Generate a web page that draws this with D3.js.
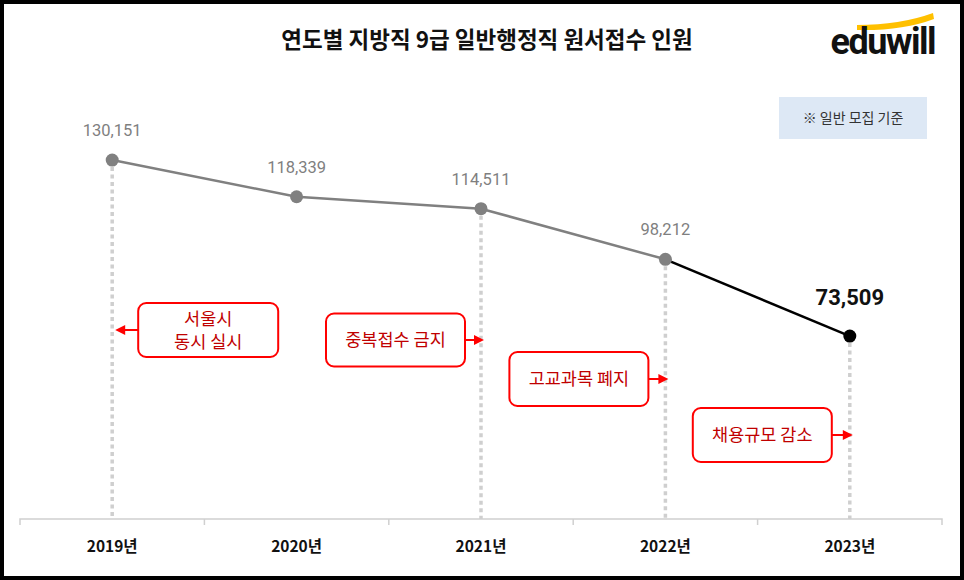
<!DOCTYPE html>
<html>
<head>
<meta charset="utf-8">
<title>연도별 지방직 9급 일반행정직 원서접수 인원</title>
<script src="https://cdn.jsdelivr.net/npm/d3@7"></script>
<style>
 html, body { margin: 0; padding: 0; background: #fff; }
 svg { display: block; font-family: "Noto Sans CJK KR", "Noto Sans", sans-serif; }
</style>
</head>
<body>
<div id="chart"></div>
<script>
 // data
 var years = ["2019년", "2020년", "2021년", "2022년", "2023년"];
 var applicants = [130151, 118339, 114511, 98212, 73509];
 var title = "연도별 지방직 9급 일반행정직 원서접수 인원";
 var footnote = "※ 일반 모집 기준";
 var noteYears = ["2019년", "2021년", "2022년", "2023년"];
 var noteTexts = [["서울시", "동시 실시"], ["중복접수 금지"], ["고교과목 폐지"], ["채용규모 감소"]];

 // layout of the note boxes, relative to the year line they point at
 var noteLayout = [
   { side: "right", gap: 26, cy: 330, w: 140, h: 54 },
   { side: "left",  gap: 16, cy: 340, w: 139, h: 53 },
   { side: "left",  gap: 17, cy: 379, w: 139, h: 54 },
   { side: "left",  gap: 18, cy: 435, w: 139, h: 54 }
 ];

 var W = 964, H = 580;
 var axisY = 519;
 var red = "#ff0000", redText = "#c00000", grey = "#808080";

 var svg = d3.select("#chart").append("svg")
   .attr("width", W).attr("height", H);

 svg.append("rect")
   .attr("x", 0).attr("y", 0).attr("width", W).attr("height", H)
   .attr("fill", "#fff");

 var x = d3.scaleBand().domain(years).range([20, 942]);
 var y = d3.scaleLinear().domain([70000, 135000]).range([347, 145]);
 var cx = function(d) { return x(d) + x.bandwidth() / 2; };

 // title
 svg.append("text")
   .attr("x", 487).attr("y", 48)
   .attr("text-anchor", "middle")
   .attr("font-size", 22.5).attr("font-weight", "bold")
   .attr("fill", "#111")
   .text(title);

 // eduwill logo
 svg.append("path")
   .attr("d", "M857,25 Q900,25 933,13 L934,19 Q902,31 857,30 Z")
   .attr("fill", "#ffc000");
 svg.append("text")
   .attr("x", 935).attr("y", 54)
   .attr("text-anchor", "end")
   .attr("font-family", "Roboto, 'Liberation Sans', sans-serif")
   .attr("font-size", 36).attr("font-weight", "bold")
   .attr("letter-spacing", -1.5)
   .attr("fill", "#111")
   .text("eduwill");

 // footnote box
 svg.append("rect")
   .attr("x", 779).attr("y", 97).attr("width", 148).attr("height", 42)
   .attr("fill", "#dde8f5");
 svg.append("text")
   .attr("x", 853).attr("y", 123)
   .attr("text-anchor", "middle")
   .attr("font-size", 14).attr("fill", "#333")
   .text(footnote);

 // x axis
 var xAxis = d3.axisBottom(x).tickSize(0).tickPadding(22);
 var gx = svg.append("g").attr("transform", "translate(0," + axisY + ")").call(xAxis);
 gx.select(".domain").attr("stroke", "#d0d0d0").attr("stroke-width", 1.5)
   .attr("d", "M20,6V0H942V6");
 gx.selectAll(".tick text")
   .attr("font-size", 15.5).attr("font-weight", "bold").attr("fill", "#111")
   .attr("font-family", "'Noto Sans CJK KR', sans-serif");
 gx.selectAll(".bound")
   .data(years.slice(1))
   .enter().append("line")
   .attr("x1", function(d) { return x(d); }).attr("x2", function(d) { return x(d); })
   .attr("y1", 0).attr("y2", 6)
   .attr("stroke", "#d0d0d0").attr("stroke-width", 1.5);

 // dashed guide lines for the annotated years
 svg.selectAll(".guide")
   .data(noteYears)
   .enter().append("line")
   .attr("x1", cx).attr("x2", cx)
   .attr("y1", function(d) { return y(applicants[years.indexOf(d)]) + 7; })
   .attr("y2", axisY)
   .attr("stroke", "#cfcfcf").attr("stroke-width", 3.5)
   .attr("stroke-dasharray", "4,3.5");

 // line
 var pts = years.map(function(d, i) { return [cx(d), y(applicants[i])]; });
 var line = d3.line();
 svg.append("path")
   .attr("d", line(pts.slice(0, 4)))
   .attr("fill", "none").attr("stroke", grey).attr("stroke-width", 2.5);
 svg.append("path")
   .attr("d", line(pts.slice(3)))
   .attr("fill", "none").attr("stroke", "#000").attr("stroke-width", 2.5);

 svg.selectAll(".dot")
   .data(years)
   .enter().append("circle")
   .attr("cx", cx)
   .attr("cy", function(d, i) { return y(applicants[i]); })
   .attr("r", 6.5)
   .attr("fill", function(d, i) { return i === years.length - 1 ? "#000" : grey; });

 // value labels
 var fmt = d3.format(",");
 svg.selectAll(".val")
   .data(years)
   .enter().append("text")
   .attr("x", cx)
   .attr("y", function(d, i) { return y(applicants[i]) - (i === years.length - 1 ? 31 : 24); })
   .attr("text-anchor", "middle")
   .attr("font-family", "Roboto, 'Liberation Sans', sans-serif")
   .attr("font-size", function(d, i) { return i === years.length - 1 ? 22 : 16.5; })
   .attr("font-weight", function(d, i) { return i === years.length - 1 ? "bold" : "normal"; })
   .attr("fill", function(d, i) { return i === years.length - 1 ? "#111" : "#7f7f7f"; })
   .text(function(d, i) { return fmt(applicants[i]); });

 // annotation boxes with arrows
 noteYears.forEach(function(yr, k) {
   var L = noteLayout[k];
   var lx = cx(yr);
   var bx = L.side === "right" ? lx + L.gap : lx - L.gap - L.w;
   var by = L.cy - L.h / 2;
   var g = svg.append("g");
   g.append("rect")
     .attr("x", bx).attr("y", by).attr("width", L.w).attr("height", L.h)
     .attr("rx", 8).attr("ry", 8)
     .attr("fill", "#fff").attr("stroke", red).attr("stroke-width", 2);
   var edge = L.side === "right" ? bx : bx + L.w;
   var tip = lx + 3;
   var dir = L.side === "right" ? -1 : 1;
   g.append("line")
     .attr("x1", edge).attr("x2", tip - dir * 8)
     .attr("y1", L.cy).attr("y2", L.cy)
     .attr("stroke", red).attr("stroke-width", 2);
   g.append("path")
     .attr("d", "M" + tip + "," + L.cy + "L" + (tip - dir * 10) + "," + (L.cy - 5) +
                "L" + (tip - dir * 10) + "," + (L.cy + 5) + "Z")
     .attr("fill", red);
   var lines = noteTexts[k];
   var lh = 23;
   var t = g.append("text")
     .attr("text-anchor", "middle")
     .attr("font-size", 17.5).attr("fill", redText);
   lines.forEach(function(s, j) {
     t.append("tspan")
       .attr("x", bx + L.w / 2)
       .attr("y", L.cy + 6 + (j - (lines.length - 1) / 2) * lh)
       .text(s);
   });
 });

 // outer frame
 svg.append("rect")
   .attr("x", 2).attr("y", 2).attr("width", W - 4).attr("height", H - 4)
   .attr("fill", "none").attr("stroke", "#000").attr("stroke-width", 4);
</script>
</body>
</html>
